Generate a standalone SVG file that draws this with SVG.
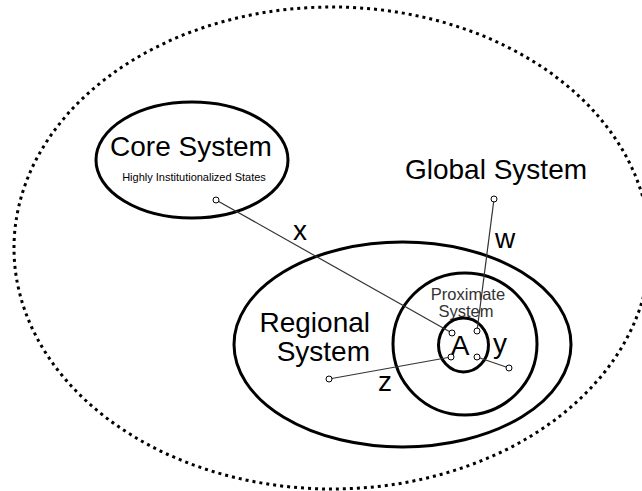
<svg xmlns="http://www.w3.org/2000/svg" width="642" height="491" viewBox="0 0 642 491">
<style>
.sys{fill:none;stroke:#000;stroke-width:3}
.big{font-family:"Liberation Sans",Arial,sans-serif;font-size:28px;fill:#000}
.small{font-family:"Liberation Sans",Arial,sans-serif;font-size:11px;fill:#000}
.prox{font-family:"Liberation Sans",Arial,sans-serif;font-size:16.5px;fill:#333}
.conn{stroke:#333;stroke-width:1.2;fill:none}
.end{fill:#fff;stroke:#000;stroke-width:1}
</style>
<rect width="642" height="491" fill="#fff"/>
<g id="global">
<ellipse cx="332" cy="248" rx="318" ry="241" fill="none" stroke="#000" stroke-width="3" stroke-dasharray="3 4"/>
<text class="big" x="496" y="179" text-anchor="middle">Global System</text>
</g>
<g id="core">
<ellipse class="sys" cx="192" cy="160" rx="96" ry="58"/>
<text class="big" x="191" y="156" text-anchor="middle">Core System</text>
<text class="small" x="194" y="181" text-anchor="middle">Highly Institutionalized States</text>
</g>
<g id="regional">
<ellipse class="sys" cx="402.5" cy="344.5" rx="168.5" ry="102.5"/>
<text class="big" x="370" y="332" text-anchor="end">Regional</text>
<text class="big" x="370" y="361" text-anchor="end">System</text>
</g>
<g id="proximate">
<ellipse class="sys" cx="465" cy="344" rx="72" ry="71"/>
<text class="prox" x="468" y="300" text-anchor="middle">Proximate</text>
<text class="prox" x="466" y="316.5" text-anchor="middle">System</text>
</g>
<g id="a">
<ellipse class="sys" cx="463.5" cy="345" rx="25" ry="27"/>
<text class="big" x="460" y="355" text-anchor="middle" font-size="30">A</text>
</g>
<g id="connectors">
<line class="conn" x1="216" y1="200" x2="452" y2="333"/>
<line class="conn" x1="494" y1="199" x2="477" y2="331"/>
<line class="conn" x1="329" y1="379" x2="451" y2="357"/>
<line class="conn" x1="477" y1="357" x2="509" y2="368"/>
<circle class="end" cx="216" cy="200" r="3"/>
<circle class="end" cx="452" cy="333" r="3"/>
<circle class="end" cx="494" cy="199" r="3"/>
<circle class="end" cx="477" cy="331" r="3"/>
<circle class="end" cx="329" cy="379" r="3"/>
<circle class="end" cx="451" cy="357" r="3"/>
<circle class="end" cx="477" cy="357" r="3"/>
<circle class="end" cx="509" cy="368" r="3"/>
<text class="big" x="300" y="240" text-anchor="middle">x</text>
<text class="big" x="505" y="248" text-anchor="middle">w</text>
<text class="big" x="385" y="391" text-anchor="middle">z</text>
<text class="big" x="500" y="353" text-anchor="middle">y</text>
</g>
</svg>
